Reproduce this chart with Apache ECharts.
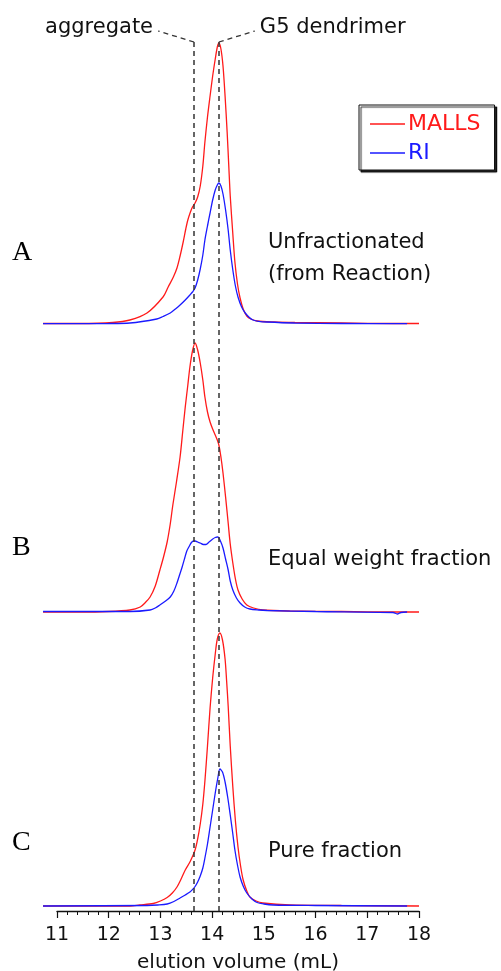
<!DOCTYPE html>
<html>
<head>
<meta charset="utf-8">
<script src="https://cdn.jsdelivr.net/npm/echarts@6/dist/echarts.min.js"></script>
<style>
html,body{margin:0;padding:0;background:#fff;}
#chart{width:501px;height:971px;}
</style>
</head>
<body>
<div id="chart"></div>
<script>
// ---- data (elution volume in mL, detector signal in arbitrary units) ----
const xTicksMin = 11, xTicksMax = 18, xTickStep = 1;
const dataMin = 10.5;                          // traces begin left of the first tick
const peakMarkers = [13.65, 14.13];            // aggregate, G5 dendrimer
const peakMarkerNames = ['aggregate', 'G5 dendrimer'];
const panelLabels = ['A', 'B', 'C'];
const panelTitles = ['Unfractionated\n(from Reaction)', 'Equal weight fraction', 'Pure fraction'];
const seriesNames = ['MALLS', 'RI'];

// Panel A – unfractionated
const volA_MALLS = [10.73, 11.44, 12.08, 12.41, 12.74, 13.05, 13.15, 13.25, 13.32, 13.38, 13.44, 13.49, 13.53, 13.58, 13.62, 13.67, 13.72, 13.77, 13.82, 13.86, 13.91, 13.96, 14.01, 14.06, 14.10, 14.13, 14.17, 14.21, 14.25, 14.29, 14.32, 14.35, 14.40, 14.44, 14.49, 14.54, 14.60, 14.67, 14.75, 14.87, 15.2, 15.6, 16.5, 17.5, 18.0];
const sigA_MALLS = [0.5, 0.5, 1.5, 4, 11, 27, 37, 47, 56, 68, 82, 95, 104, 112, 117, 121, 127, 138, 158, 182, 207, 228, 248, 265, 277, 281, 275, 258, 228, 192, 160, 128, 90, 62, 40, 26, 15, 8, 5, 3, 2, 1.5, 1, 0.5, 0.5];
const volA_RI = [10.73, 12.0, 12.41, 12.93, 13.05, 13.19, 13.29, 13.38, 13.48, 13.57, 13.62, 13.67, 13.72, 13.77, 13.82, 13.86, 13.91, 13.96, 14.01, 14.06, 14.10, 14.13, 14.17, 14.21, 14.26, 14.31, 14.35, 14.40, 14.45, 14.50, 14.57, 14.64, 14.72, 14.79, 14.9, 15.06, 15.6, 16.5, 17.77];
const sigA_RI = [0.3, 0.5, 1, 5, 7.5, 11, 15, 19, 24, 29, 32, 36, 44, 55, 69, 84, 98, 111, 124, 134, 139, 141, 138, 130, 114, 94, 74, 54, 38, 27, 17, 11, 6.5, 4, 2.7, 2, 1, 0.5, 0.3];

// Panel B – equal weight fraction
const volB_MALLS = [10.73, 11.44, 12.0, 12.41, 12.61, 12.7, 12.8, 12.9, 12.99, 13.06, 13.13, 13.19, 13.24, 13.31, 13.38, 13.43, 13.48, 13.53, 13.57, 13.62, 13.67, 13.72, 13.77, 13.82, 13.86, 13.91, 13.96, 14.01, 14.06, 14.10, 14.13, 14.17, 14.21, 14.26, 14.31, 14.35, 14.40, 14.45, 14.50, 14.58, 14.67, 14.8, 14.98, 15.5, 16.5, 17.5, 18.0];
const sigB_MALLS = [0, 0, 0.5, 2, 5, 9, 15, 26, 42, 55, 70, 88, 107, 130, 155, 180, 205, 227, 245, 261, 269, 262, 249, 232, 215, 200, 190, 183, 177, 172, 167, 155, 139, 115, 89, 68, 49, 33, 22, 13, 7, 4, 2, 1, 0.5, 0, 0];
const volB_RI = [10.73, 12.0, 12.41, 12.8, 12.9, 12.99, 13.1, 13.19, 13.26, 13.32, 13.37, 13.42, 13.47, 13.51, 13.56, 13.6, 13.64, 13.67, 13.72, 13.77, 13.83, 13.88, 13.94, 14.0, 14.06, 14.11, 14.16, 14.21, 14.26, 14.31, 14.35, 14.40, 14.47, 14.54, 14.63, 14.73, 14.9, 15.06, 16.0, 17.5, 17.58, 17.65, 17.77];
const sigB_RI = [0.5, 0.5, 0.5, 2, 4, 7, 11, 15, 21, 29, 37, 45, 54, 61, 66, 69.5, 71, 71, 70, 69, 67.5, 67.5, 70, 72.5, 74.5, 75, 71, 64, 53, 42, 31, 22, 14, 9, 5, 3, 2, 1.5, 0.5, -0.5, -2, -0.5, 0];

// Panel C – pure fraction
const volC_MALLS = [10.73, 12.41, 12.6, 12.86, 13.0, 13.13, 13.23, 13.32, 13.40, 13.48, 13.58, 13.67, 13.72, 13.77, 13.82, 13.86, 13.91, 13.96, 14.01, 14.06, 14.10, 14.15, 14.20, 14.25, 14.28, 14.31, 14.35, 14.40, 14.45, 14.50, 14.55, 14.60, 14.67, 14.73, 14.85, 14.98, 15.5, 16.5, 18.0];
const sigC_MALLS = [0, 0, 1, 2.5, 5, 8.5, 13, 19, 27, 36, 45, 56, 67, 82, 102, 125, 160, 198, 228, 252, 267, 273, 266, 247, 225, 200, 160, 119, 85, 59, 40, 26, 15, 9, 5, 3, 1, 0.5, 0];
const volC_RI = [10.73, 12.74, 12.95, 13.13, 13.26, 13.38, 13.48, 13.57, 13.62, 13.67, 13.72, 13.77, 13.82, 13.86, 13.91, 13.96, 14.01, 14.06, 14.11, 14.15, 14.20, 14.25, 14.30, 14.35, 14.40, 14.44, 14.49, 14.54, 14.60, 14.67, 14.77, 14.87, 15.0, 15.18, 16.0, 17.77];
const sigC_RI = [0, 0.5, 1, 2, 4.5, 8, 11, 14, 16.5, 19.5, 24, 30, 38, 48, 62, 79, 96, 113, 128, 137, 134, 124, 109, 91, 72, 56, 41, 29, 20, 13, 7, 3.5, 2, 1, 0.5, 0];

// ---- chart ----
const FONT = 'DejaVu Sans';
const RED = '#ff1a1a', BLUE = '#1a1aff';
const zip = (xs, ys) => xs.map((x, i) => [x, ys[i]]);

const panels = [
  {mal: zip(volA_MALLS, sigA_MALLS), ri: zip(volA_RI, sigA_RI), top: 34},
  {mal: zip(volB_MALLS, sigB_MALLS), ri: zip(volB_RI, sigB_RI), top: 322},
  {mal: zip(volC_MALLS, sigC_MALLS), ri: zip(volC_RI, sigC_RI), top: 616}
];
const PANEL_H = 290;
const AX_L = 57, AX_R = 82;                                   // visible axis extent
const PX_PER_ML = (501 - AX_R - AX_L) / (xTicksMax - xTicksMin);
const DATA_L = AX_L - (xTicksMin - dataMin) * PX_PER_ML;      // same scale, wider range

const grids = [], xAxes = [], yAxes = [], series = [];
panels.forEach((p, i) => {
  grids.push({left: DATA_L, right: AX_R, top: p.top, height: PANEL_H, containLabel: false, outerBoundsMode: 'none'});
  xAxes.push({type: 'value', gridIndex: i, min: dataMin, max: xTicksMax, show: false});
  yAxes.push({type: 'value', gridIndex: i, min: 0, max: PANEL_H, show: false});
  [[p.mal, seriesNames[0], RED], [p.ri, seriesNames[1], BLUE]].forEach(([d, n, c]) => {
    series.push({
      type: 'line', name: n, xAxisIndex: i, yAxisIndex: i, data: d,
      showSymbol: false, smooth: 0.3, clip: false,
      lineStyle: {color: c, width: 1.3}, itemStyle: {color: c}, silent: true
    });
  });
});
// overlay grid: shared x axis and dashed markers
grids.push({left: AX_L, right: AX_R, top: 42, bottom: 60, containLabel: false, outerBoundsMode: 'none'});
xAxes.push({
  type: 'value', gridIndex: 3, min: xTicksMin, max: xTicksMax, interval: xTickStep,
  name: 'elution volume (mL)', nameLocation: 'middle', nameGap: 42,
  nameTextStyle: {fontFamily: FONT, fontSize: 20, color: '#111'},
  axisLine: {show: true, lineStyle: {color: '#111', width: 1.3}},
  axisTick: {show: true, length: 7, lineStyle: {color: '#111', width: 1.2}},
  minorTick: {show: true, splitNumber: 5, length: 4, lineStyle: {color: '#111', width: 1}},
  axisLabel: {fontFamily: FONT, fontSize: 19, color: '#111', margin: 15},
  splitLine: {show: false}
});
yAxes.push({type: 'value', gridIndex: 3, min: 0, max: 1, show: false});
series.push({
  type: 'line', xAxisIndex: 3, yAxisIndex: 3, data: [], z: 10, silent: true,
  markLine: {
    symbol: 'none', silent: true, label: {show: false},
    lineStyle: {type: [5, 4], color: '#333', width: 1.5},
    data: peakMarkers.map(v => ({xAxis: v}))
  }
});

const chart = echarts.init(document.getElementById('chart'), null, {renderer: 'canvas'});
chart.setOption({
  animation: false,
  backgroundColor: '#fff',
  grid: grids, xAxis: xAxes, yAxis: yAxes, series: series,
  legend: {
    left: 359, top: 105, orient: 'vertical',
    data: [
      {name: seriesNames[0], textStyle: {color: RED}},
      {name: seriesNames[1], textStyle: {color: BLUE}}
    ],
    icon: 'rect', itemWidth: 35, itemHeight: 1.5, itemGap: 5,
    padding: [7, 14, 5, 11],
    backgroundColor: '#fff', borderColor: '#111', borderWidth: 1,
    shadowColor: 'rgba(0,0,0,0.85)', shadowOffsetX: 2, shadowOffsetY: 2, shadowBlur: 1,
    textStyle: {fontFamily: FONT, fontSize: 22, lineHeight: 24, padding: [0, 0, 0, -2]},
    selectedMode: false
  }
});

// annotations positioned from the axis scale
const topY = chart.convertToPixel({gridIndex: 3}, [xTicksMin, 1])[1];
const mx = peakMarkers.map(v => chart.convertToPixel({gridIndex: 3}, [v, 0])[0]);
const labelY = topY - 11;
const graphics = [
  {type: 'line', shape: {x1: mx[0], y1: topY, x2: mx[0] - 36, y2: labelY}, style: {stroke: '#333', lineWidth: 1.3, lineDash: [5, 4]}},
  {type: 'line', shape: {x1: mx[1], y1: topY, x2: mx[1] + 36, y2: labelY}, style: {stroke: '#333', lineWidth: 1.3, lineDash: [5, 4]}},
  {type: 'text', x: mx[0] - 41, y: labelY - 3, style: {text: peakMarkerNames[0], fontFamily: FONT, fontSize: 21, fill: '#111', align: 'right', verticalAlign: 'middle'}},
  {type: 'text', x: mx[1] + 41, y: labelY - 3, style: {text: peakMarkerNames[1], fontFamily: FONT, fontSize: 21, fill: '#111', align: 'left', verticalAlign: 'middle'}}
];
const labelYs = [253, 548, 843];
const titleYs = [259, 560, 852];
panels.forEach((p, i) => {
  graphics.push({type: 'text', x: 12, y: labelYs[i], style: {text: panelLabels[i], fontFamily: 'Liberation Serif', fontSize: 28, fill: '#000', verticalAlign: 'middle'}});
  graphics.push({type: 'text', x: 268, y: titleYs[i], style: {text: panelTitles[i], fontFamily: FONT, fontSize: 21, lineHeight: 32, fill: '#111', verticalAlign: 'middle'}});
});
chart.setOption({graphic: graphics});
</script>
</body>
</html>
